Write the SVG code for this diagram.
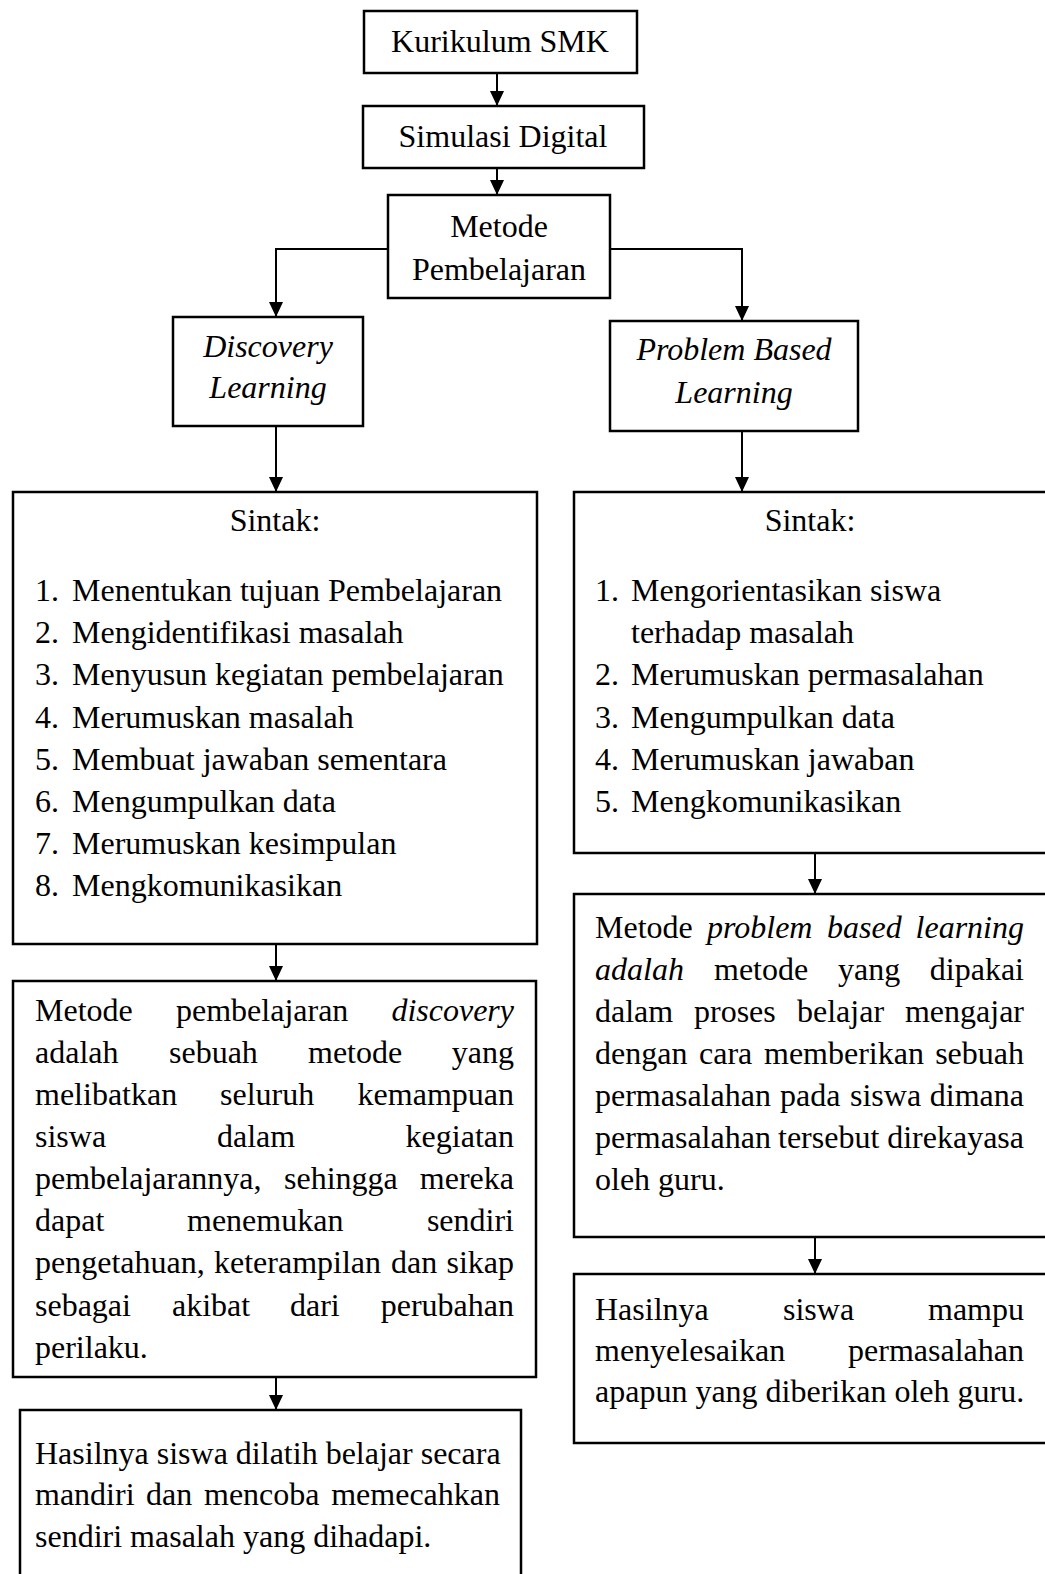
<svg xmlns="http://www.w3.org/2000/svg" width="1045" height="1574" viewBox="0 0 1045 1574" font-family="'Liberation Serif', 'Times New Roman', Times, serif">
<style>
  text { font-family: 'Liberation Serif', 'Times New Roman', Times, serif; font-size: 32px; fill: #000; }
  .it { font-style: italic; }
  .c { text-anchor: middle; }
  .e { text-anchor: end; }
  .box { fill: #fff; stroke: #000; stroke-width: 2.5; }
  .ln { fill: none; stroke: #000; stroke-width: 2; }
</style>
<defs>
  <marker id="arr" viewBox="0 0 15 14" refX="15" refY="7" markerWidth="15" markerHeight="14" markerUnits="userSpaceOnUse" orient="auto">
    <path d="M0,0 L15,7 L0,14 Z" fill="#000"/>
  </marker>
</defs>
<rect width="1045" height="1574" fill="#fff"/>

<g id="connectors">
  <line class="ln" x1="497" y1="73" x2="497" y2="106" marker-end="url(#arr)"/>
  <line class="ln" x1="497" y1="168" x2="497" y2="195" marker-end="url(#arr)"/>
  <polyline class="ln" points="388,249 276,249 276,317" marker-end="url(#arr)"/>
  <polyline class="ln" points="610,249 742,249 742,321" marker-end="url(#arr)"/>
  <line class="ln" x1="276" y1="426" x2="276" y2="492" marker-end="url(#arr)"/>
  <line class="ln" x1="742" y1="431" x2="742" y2="492" marker-end="url(#arr)"/>
  <line class="ln" x1="276" y1="944" x2="276" y2="981" marker-end="url(#arr)"/>
  <line class="ln" x1="276" y1="1377" x2="276" y2="1410" marker-end="url(#arr)"/>
  <line class="ln" x1="815" y1="853" x2="815" y2="894" marker-end="url(#arr)"/>
  <line class="ln" x1="815" y1="1237" x2="815" y2="1274" marker-end="url(#arr)"/>
</g>

<g id="kurikulum">
  <rect class="box" x="364" y="11" width="273" height="62"/>
  <text class="c" x="500" y="52">Kurikulum SMK</text>
</g>

<g id="simulasi">
  <rect class="box" x="363" y="106" width="281" height="62"/>
  <text class="c" x="503" y="147">Simulasi Digital</text>
</g>

<g id="metode">
  <rect class="box" x="388" y="195" width="222" height="103"/>
  <text class="c" x="499" y="237">Metode</text>
  <text class="c" x="499" y="280">Pembelajaran</text>
</g>

<g id="discovery">
  <rect class="box" x="173" y="317" width="190" height="109"/>
  <text class="c it" x="268" y="357">Discovery</text>
  <text class="c it" x="268" y="398">Learning</text>
</g>

<g id="pbl">
  <rect class="box" x="610" y="321" width="248" height="110"/>
  <text class="c it" x="734" y="360">Problem Based</text>
  <text class="c it" x="734" y="403">Learning</text>
</g>

<g id="sintak-discovery">
  <rect class="box" x="13" y="492" width="524" height="452"/>
  <text class="c" x="275" y="531">Sintak:</text>
  <text x="35" y="601">1.</text><text x="72" y="601">Menentukan tujuan Pembelajaran</text>
  <text x="35" y="643">2.</text><text x="72" y="643">Mengidentifikasi masalah</text>
  <text x="35" y="685">3.</text><text x="72" y="685">Menyusun kegiatan pembelajaran</text>
  <text x="35" y="728">4.</text><text x="72" y="728">Merumuskan masalah</text>
  <text x="35" y="770">5.</text><text x="72" y="770">Membuat jawaban sementara</text>
  <text x="35" y="812">6.</text><text x="72" y="812">Mengumpulkan data</text>
  <text x="35" y="854">7.</text><text x="72" y="854">Merumuskan kesimpulan</text>
  <text x="35" y="896">8.</text><text x="72" y="896">Mengkomunikasikan</text>
</g>

<g id="sintak-pbl">
  <rect class="box" x="574" y="492" width="480" height="361"/>
  <text class="c" x="810" y="531">Sintak:</text>
  <text x="595" y="601">1.</text><text x="631" y="601">Mengorientasikan siswa</text>
  <text x="631" y="643">terhadap masalah</text>
  <text x="595" y="685">2.</text><text x="631" y="685">Merumuskan permasalahan</text>
  <text x="595" y="728">3.</text><text x="631" y="728">Mengumpulkan data</text>
  <text x="595" y="770">4.</text><text x="631" y="770">Merumuskan jawaban</text>
  <text x="595" y="812">5.</text><text x="631" y="812">Mengkomunikasikan</text>
</g>

<g id="desc-discovery">
  <rect class="box" x="13" y="981" width="523" height="396"/>
  <text y="1021"><tspan x="35">Metode</tspan><tspan x="176">pembelajaran</tspan></text>
  <text class="e it" x="514" y="1021">discovery</text>
  <text y="1063"><tspan x="35">adalah</tspan><tspan x="169">sebuah</tspan><tspan x="308">metode</tspan></text>
  <text class="e" x="514" y="1063">yang</text>
  <text y="1105"><tspan x="35">melibatkan</tspan><tspan x="220">seluruh</tspan></text>
  <text class="e" x="514" y="1105">kemampuan</text>
  <text y="1147"><tspan x="35">siswa</tspan><tspan x="217">dalam</tspan></text>
  <text class="e" x="514" y="1147">kegiatan</text>
  <text y="1189"><tspan x="35">pembelajarannya,</tspan><tspan x="284">sehingga</tspan></text>
  <text class="e" x="514" y="1189">mereka</text>
  <text y="1231"><tspan x="35">dapat</tspan><tspan x="187">menemukan</tspan></text>
  <text class="e" x="514" y="1231">sendiri</text>
  <text y="1273"><tspan x="35">pengetahuan,</tspan><tspan x="214">keterampilan</tspan><tspan x="391">dan</tspan></text>
  <text class="e" x="514" y="1273">sikap</text>
  <text y="1316"><tspan x="35">sebagai</tspan><tspan x="172">akibat</tspan><tspan x="290">dari</tspan></text>
  <text class="e" x="514" y="1316">perubahan</text>
  <text x="35" y="1358">perilaku.</text>
</g>

<g id="hasil-discovery">
  <rect class="box" x="20" y="1410" width="501" height="180"/>
  <text x="35" y="1464">Hasilnya siswa dilatih belajar secara</text>
  <text y="1505"><tspan x="35">mandiri</tspan><tspan x="146">dan</tspan><tspan x="204">mencoba</tspan></text>
  <text class="e" x="500" y="1505">memecahkan</text>
  <text x="35" y="1547">sendiri masalah yang dihadapi.</text>
</g>

<g id="desc-pbl">
  <rect class="box" x="574" y="894" width="480" height="343"/>
  <text y="938"><tspan x="595">Metode</tspan><tspan class="it" x="707">problem</tspan><tspan class="it" x="827">based</tspan></text>
  <text class="e it" x="1024" y="938">learning</text>
  <text y="980"><tspan class="it" x="595">adalah</tspan><tspan x="714">metode</tspan><tspan x="838">yang</tspan></text>
  <text class="e" x="1024" y="980">dipakai</text>
  <text y="1022"><tspan x="595">dalam</tspan><tspan x="694">proses</tspan><tspan x="797">belajar</tspan></text>
  <text class="e" x="1024" y="1022">mengajar</text>
  <text y="1064"><tspan x="595">dengan</tspan><tspan x="699">cara</tspan><tspan x="764">memberikan</tspan></text>
  <text class="e" x="1024" y="1064">sebuah</text>
  <text y="1106"><tspan x="595">permasalahan</tspan><tspan x="780">pada</tspan><tspan x="850">siswa</tspan></text>
  <text class="e" x="1024" y="1106">dimana</text>
  <text y="1148"><tspan x="595">permasalahan</tspan><tspan x="778">tersebut</tspan></text>
  <text class="e" x="1024" y="1148">direkayasa</text>
  <text x="595" y="1190">oleh guru.</text>
</g>

<g id="hasil-pbl">
  <rect class="box" x="574" y="1274" width="480" height="169"/>
  <text y="1320"><tspan x="595">Hasilnya</tspan><tspan x="783">siswa</tspan></text>
  <text class="e" x="1024" y="1320">mampu</text>
  <text x="595" y="1361">menyelesaikan</text>
  <text class="e" x="1024" y="1361">permasalahan</text>
  <text x="595" y="1402">apapun yang diberikan oleh guru.</text>
</g>
</svg>
